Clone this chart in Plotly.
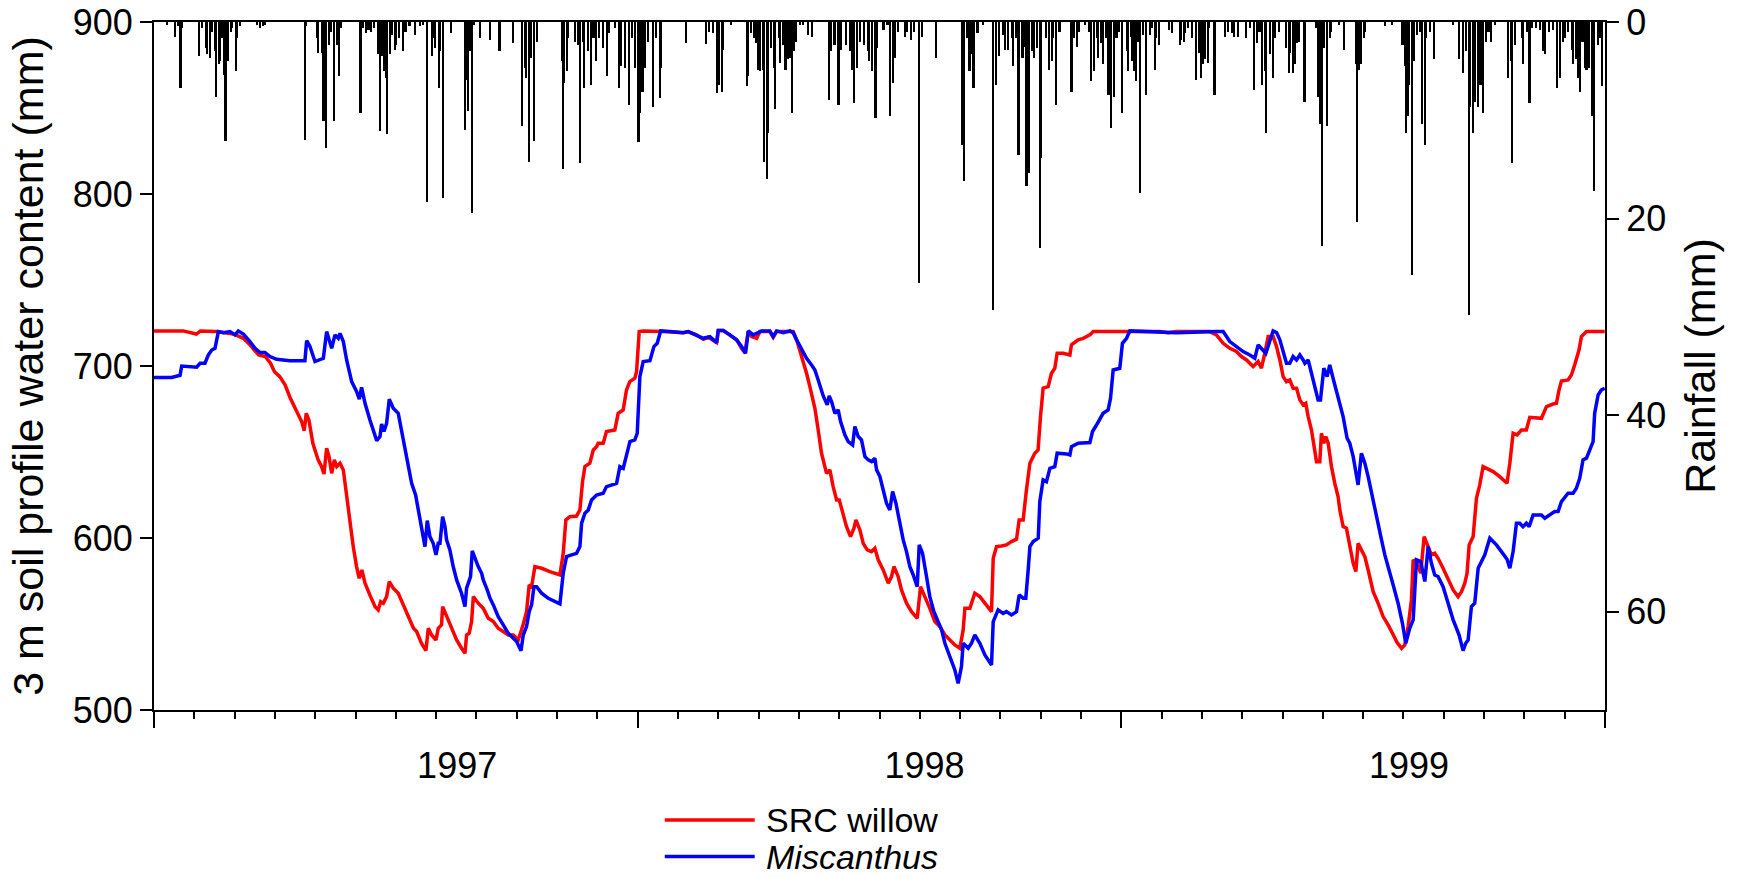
import plotly.graph_objects as go

# ---- data (x = days since start of record, 3 years shown) ----
red_day = [0, 22, 32, 35, 47, 60, 67.5, 72.5, 79, 84, 88, 91, 95, 99, 103, 108, 111.5, 113.5, 115, 117, 120, 122, 124, 126.6, 128.4, 130.4, 132.2, 134.2, 136.2, 138, 140.5, 143, 145.5, 148, 150.5, 153, 155, 157, 159.4, 163, 167, 169.4, 171.2, 173.2, 175.7, 177.7, 180.7, 184.5, 188.3, 192, 196, 198.4, 202, 205.4, 207.2, 209.7, 213, 214.7, 217.2, 218, 221, 224.8, 228.6, 232.3, 234.9, 236.1, 238.1, 239.9, 241.2, 244.9, 248.7, 252.5, 256.3, 260, 263.8, 267.6, 271.4, 275.1, 278.4, 281.4, 283.4, 285.2, 287.7, 292.8, 299, 306.6, 309.1, 311.1, 314.1, 319.2, 321.7, 323.7, 325.5, 329.2, 331.8, 334.3, 335.5, 339.3, 341.8, 348.1, 350.6, 354.4, 356.9, 359.4, 363.2, 364.5, 366.5, 369.5, 384.7, 399.8, 403.5, 409.8, 414.9, 418.7, 425, 426.2, 430, 435, 440.1, 443.8, 446.3, 448.9, 451.4, 455.2, 457.7, 465.2, 467.7, 470.3, 482.8, 485.4, 489.1, 492.9, 495.4, 499.2, 501.7, 504.2, 508, 510.5, 513, 515.6, 517.6, 520.1, 523.1, 526.1, 528.7, 530.2, 533.2, 535.7, 538.7, 542, 544.5, 547, 550.8, 554.6, 557.1, 558.9, 562.1, 564.6, 568.4, 572.2, 576.5, 579, 582.3, 586, 589.8, 593.6, 597.4, 601.1, 604.9, 608.7, 611.2, 612.5, 616.3, 617.5, 620, 623.8, 627.6, 632.6, 633.9, 636.4, 640.2, 643.9, 647.7, 651.5, 653.5, 656.5, 659, 661.6, 665.3, 667.8, 669.6, 671.6, 675.4, 677.9, 680.4, 682.2, 686.7, 691.8, 693, 698.1, 701.8, 706.9, 709.4, 716.9, 737.1, 759.8, 766, 772.3, 797.5, 802.5, 807.6, 812.6, 817.6, 821.4, 825.2, 827.7, 830.2, 834, 836.5, 839, 841.6, 845.3, 847.9, 850.4, 852.9, 855.4, 857.9, 860.4, 863, 865.5, 868, 870, 871.8, 874.3, 876.1, 878.1, 880.6, 881.8, 883.6, 885.1, 886.9, 889.4, 891.9, 894.4, 895.7, 898.2, 900.7, 902.7, 905.8, 907.8, 909.5, 912, 914.6, 917.1, 920.9, 924.6, 928.4, 932.2, 936, 939, 942.3, 944.8, 947.3, 949.8, 951.1, 954.1, 956.8, 959.4, 962.4, 964.9, 967.4, 969.9, 973.7, 977.5, 981.3, 985, 987.6, 990.1, 991.8, 993.4, 996.4, 998.9, 1001.4, 1003.9, 1006.4, 1011.5, 1016.5, 1022, 1024.1, 1026.6, 1029.6, 1032.9, 1036.6, 1039.2, 1048, 1051.8, 1056.8, 1059.3, 1061.3, 1063.1, 1068.1, 1070.6, 1073.1, 1076.4, 1078.2, 1082, 1095.8]
red_val = [720.4, 720.4, 718.6, 720.4, 720.0, 718.6, 716.1, 712.3, 706.4, 705.5, 701.6, 696.7, 693.8, 689.0, 681.2, 673.5, 667.7, 662.4, 672.5, 668.6, 655.1, 650.2, 645.4, 641.5, 637.2, 652.2, 647.3, 637.6, 645.4, 641.5, 643.5, 639.6, 624.1, 608.6, 595.0, 583.4, 576.6, 581.4, 573.7, 566.9, 560.1, 558.2, 563.0, 562.1, 565.9, 574.7, 570.8, 567.9, 561.1, 554.3, 547.5, 545.6, 538.8, 534.5, 547.5, 543.6, 540.7, 547.5, 549.5, 560.1, 554.3, 547.5, 540.7, 535.9, 533.0, 543.6, 544.6, 551.4, 565.9, 562.1, 559.1, 553.3, 551.4, 547.5, 545.6, 543.6, 543.6, 540.7, 548.5, 557.2, 572.7, 571.7, 583.4, 582.4, 580.5, 578.5, 591.1, 610.5, 612.4, 612.8, 616.3, 632.8, 641.5, 643.5, 651.2, 653.1, 655.1, 655.1, 661.9, 662.8, 672.5, 674.5, 686.1, 690.9, 692.9, 696.7, 720.0, 720.4, 720.0, 719.4, 720.0, 718.1, 715.5, 716.7, 713.6, 720.6, 720.6, 718.1, 715.2, 710.3, 707.8, 720.0, 717.1, 716.1, 720.0, 720.0, 716.7, 720.0, 720.0, 715.2, 706.4, 695.8, 688.0, 675.4, 662.8, 649.3, 637.6, 639.6, 629.9, 622.1, 622.1, 614.4, 606.6, 600.8, 605.7, 610.5, 604.7, 596.9, 593.1, 592.1, 594.0, 587.3, 581.4, 573.7, 577.6, 583.4, 577.6, 569.8, 562.1, 557.2, 553.3, 571.7, 565.9, 559.1, 551.4, 548.5, 543.6, 540.7, 537.8, 535.9, 546.6, 559.1, 559.1, 562.1, 567.9, 565.9, 562.1, 557.2, 588.2, 595.0, 595.4, 596.0, 597.9, 599.3, 610.5, 610.5, 628.0, 643.5, 649.3, 651.2, 670.6, 687.1, 688.0, 695.8, 698.7, 707.4, 707.4, 706.4, 712.3, 715.2, 716.1, 718.1, 720.0, 720.0, 720.0, 720.0, 719.4, 720.0, 720.0, 718.1, 713.2, 710.3, 708.4, 705.5, 703.5, 701.6, 699.7, 702.6, 698.7, 707.4, 717.1, 717.1, 711.3, 703.5, 693.8, 690.9, 691.9, 687.1, 687.1, 680.3, 677.4, 678.3, 670.6, 662.8, 655.1, 644.4, 644.4, 660.9, 655.1, 659.0, 655.1, 641.5, 631.8, 624.1, 616.3, 606.6, 605.7, 596.9, 585.3, 580.5, 596.9, 593.1, 589.2, 581.4, 568.8, 562.1, 554.3, 549.5, 543.6, 539.2, 535.9, 537.8, 548.5, 564.0, 587.3, 585.3, 579.5, 600.8, 595.0, 590.2, 591.1, 588.2, 582.4, 575.6, 569.8, 565.9, 568.8, 573.7, 579.5, 596.0, 600.8, 623.1, 630.9, 641.5, 640.5, 638.6, 635.7, 631.8, 643.5, 660.9, 659.9, 662.8, 662.8, 670.2, 669.6, 676.4, 677.9, 678.3, 686.1, 691.3, 691.9, 694.8, 700.6, 709.4, 717.1, 720.0, 720.0]

blue_day = [0, 13.4, 19.7, 20.9, 32.2, 34.8, 38.5, 41, 43.6, 46.1, 48.6, 52.4, 57.4, 61.2, 63.7, 67.5, 72.5, 76.3, 80.1, 83.8, 87.6, 92.6, 102.7, 114, 115.3, 117.8, 121.6, 125.4, 127.9, 130.4, 134.2, 136.7, 139.2, 140.5, 143, 145.5, 149.3, 153.1, 155.1, 156.8, 159.4, 163.1, 165.7, 168.2, 170.7, 171.9, 173.7, 175.7, 177.7, 180.7, 184.5, 187, 189.6, 192.1, 194.6, 197.6, 199.6, 202.1, 204.7, 206.4, 208.4, 210.9, 213, 214.7, 216, 218, 219.8, 221, 223.5, 226, 228.6, 232.3, 234.9, 236.1, 238.1, 239.1, 240.4, 242.4, 244.9, 247.5, 248.7, 251.7, 253.8, 256.3, 260, 263.8, 267.6, 271.4, 273.9, 277.2, 278.9, 281.4, 283.4, 285.2, 287, 289, 292.8, 297.8, 302.8, 306.6, 309.1, 311.6, 315.4, 319.2, 321.7, 323, 325.5, 328, 330.5, 334.3, 339.3, 341.8, 349.4, 351.9, 354.4, 356.9, 359.5, 363.2, 365, 367, 369.5, 374.6, 377.6, 380.1, 382.7, 389.7, 399.8, 403.5, 409.8, 414.9, 419.9, 425, 426.2, 430, 435, 440.1, 443.8, 446.8, 448.9, 452.6, 456.4, 458.9, 465.2, 467.7, 470.3, 475.3, 480.3, 482.8, 485.4, 489.1, 492.9, 496.7, 499.2, 501.7, 505.5, 508.5, 510, 511.8, 514.3, 516.8, 518.6, 521.9, 524.4, 527.7, 529.4, 531.9, 534.4, 537, 539.5, 542, 544.5, 545.8, 548.3, 550.8, 553.3, 555.8, 557.9, 560.4, 563.4, 565.9, 568.4, 570.9, 573.5, 576.5, 578, 580.5, 583.5, 586, 589.1, 592.3, 594.9, 597.4, 601.1, 604.9, 607.4, 609.9, 611.2, 615, 617.5, 620, 623.8, 627.6, 632.6, 633.9, 637.6, 641.4, 643.9, 647.7, 651.5, 653.5, 656.5, 658.5, 660.3, 661.6, 664.1, 667.9, 669.1, 671.6, 674.1, 676.7, 680.4, 682.2, 689.3, 691.8, 693, 698.1, 706.9, 708.9, 711.9, 716.9, 720.7, 722.5, 724.5, 729.5, 731.5, 734.6, 737.1, 759.8, 766, 772.3, 802.5, 807.6, 812.6, 817.6, 822.7, 827.7, 830.2, 831.5, 834, 836.5, 839.8, 845.3, 847.9, 850.4, 852.9, 855.4, 857.9, 860.4, 863, 865.5, 868, 869.3, 871.8, 874.3, 876.8, 879.3, 881.1, 883.6, 886.1, 888.1, 890.6, 893.2, 895.7, 898.2, 901.2, 903.2, 905.8, 907.8, 909.5, 912, 914.6, 917.1, 919.6, 922.1, 924.6, 927.2, 929.7, 933.4, 936, 939.7, 943, 945.5, 948.5, 951.1, 953.6, 956.8, 959.9, 962.4, 964.9, 967.4, 969.9, 973.7, 977.5, 981.3, 985.8, 988.8, 990.8, 992.6, 995.1, 997.6, 1000.2, 1002.7, 1005.2, 1009, 1014, 1017.8, 1022, 1024.1, 1026.6, 1029.1, 1031.6, 1034.1, 1036.6, 1038.7, 1041.7, 1048, 1050.5, 1058, 1060.6, 1063.1, 1068.1, 1071.9, 1074.4, 1076.9, 1079.4, 1082, 1084.5, 1087, 1088.2, 1090.8, 1093.3, 1095.8]
blue_val = [693.3, 693.3, 694.6, 700.0, 699.3, 701.6, 701.6, 706.4, 709.3, 710.3, 720.0, 719.4, 720.0, 718.1, 720.4, 718.6, 714.2, 710.3, 707.8, 707.8, 705.5, 703.9, 703.1, 703.1, 714.8, 711.3, 702.6, 703.5, 704.5, 720.0, 710.3, 718.1, 716.1, 719.0, 714.2, 703.5, 690.9, 685.1, 680.7, 687.6, 678.3, 668.6, 662.8, 656.6, 659.0, 666.3, 661.9, 666.7, 680.7, 675.4, 672.5, 662.8, 651.2, 641.5, 631.8, 625.0, 616.3, 606.6, 595.0, 610.1, 600.8, 596.9, 590.2, 596.9, 596.9, 612.4, 606.6, 598.9, 593.1, 583.4, 575.6, 567.9, 560.1, 570.8, 575.6, 577.6, 592.5, 588.2, 583.4, 579.5, 575.6, 569.8, 565.0, 561.1, 554.3, 549.5, 544.6, 541.7, 539.8, 534.5, 543.6, 548.5, 557.2, 561.1, 571.7, 571.7, 567.9, 564.9, 563.0, 561.7, 579.5, 589.2, 590.2, 591.1, 595.0, 608.6, 614.4, 616.3, 622.1, 625.0, 626.0, 629.9, 631.8, 641.5, 640.5, 647.3, 656.0, 657.0, 660.9, 693.8, 702.6, 703.1, 711.3, 713.2, 720.4, 720.0, 719.4, 720.0, 718.1, 716.1, 717.1, 713.6, 720.6, 720.6, 718.1, 715.2, 711.3, 707.4, 720.4, 718.1, 719.4, 720.4, 720.4, 717.1, 720.4, 719.4, 720.4, 719.4, 715.2, 710.3, 704.5, 700.6, 697.7, 691.9, 682.6, 677.4, 682.6, 679.3, 672.5, 674.5, 667.7, 659.9, 656.0, 654.1, 664.8, 659.0, 657.0, 647.3, 645.4, 644.4, 646.4, 639.6, 635.7, 627.9, 620.2, 616.3, 627.0, 620.2, 608.6, 598.9, 592.1, 583.4, 578.5, 571.7, 596.0, 591.1, 577.6, 565.9, 557.2, 551.4, 546.6, 538.8, 531.1, 523.3, 515.5, 525.2, 538.8, 535.9, 538.8, 543.6, 538.8, 532.0, 526.2, 551.4, 558.2, 556.2, 557.2, 555.3, 557.2, 566.9, 565.0, 565.0, 581.4, 595.0, 597.9, 599.9, 621.2, 633.8, 632.8, 640.5, 641.5, 649.3, 648.9, 648.3, 653.1, 655.1, 655.5, 661.9, 665.7, 672.5, 674.5, 681.2, 697.7, 698.7, 713.2, 716.1, 720.4, 720.0, 720.0, 719.4, 720.0, 720.0, 714.2, 711.3, 708.4, 706.4, 705.5, 704.5, 712.3, 710.3, 707.4, 720.4, 719.4, 715.2, 708.4, 701.6, 701.6, 705.5, 703.5, 706.4, 703.5, 701.6, 703.5, 695.8, 690.0, 680.3, 680.3, 698.7, 693.8, 700.6, 692.9, 685.1, 679.3, 670.6, 658.0, 655.1, 647.3, 637.6, 630.9, 649.3, 643.5, 635.7, 626.0, 616.3, 608.6, 598.9, 590.2, 580.5, 572.7, 562.1, 550.4, 538.8, 547.5, 552.4, 587.3, 586.3, 574.7, 595.0, 585.3, 578.5, 577.6, 571.7, 562.1, 552.4, 543.6, 534.5, 538.8, 540.7, 560.1, 562.1, 582.4, 586.3, 590.2, 599.9, 596.0, 592.1, 587.6, 582.4, 592.1, 608.6, 608.6, 606.6, 608.6, 606.6, 613.4, 613.4, 611.5, 615.4, 615.4, 621.2, 626.0, 626.0, 628.9, 634.7, 645.4, 646.4, 651.2, 656.0, 672.5, 683.2, 686.1, 687.1, 693.8]

rain_day = [10, 16, 18, 20, 21, 34, 36, 39, 40, 42, 44, 46, 47, 49, 50, 51, 53, 54, 56, 58, 59, 62, 63, 65, 78, 80, 82, 84,
            114, 115, 123, 124, 127, 128, 130, 132, 134, 136, 138, 140, 141, 156, 158, 160, 162, 164, 166, 169, 170, 171, 172,
            174, 175, 176, 178, 180, 182, 183, 185, 188, 190, 193, 197, 201, 203, 206, 210, 211, 212, 215, 216, 218, 224,
            235, 236, 237, 239, 240, 242, 246, 254, 261, 271, 278, 280, 281, 283, 285, 287, 289, 308, 309, 310, 312, 313,
            318, 320, 321, 322, 324, 325, 328, 330, 332, 334, 336, 339, 342, 344, 348, 351, 352, 353, 356, 359, 361, 363,
            366, 367, 369, 371, 373, 377, 379, 382, 383, 402, 417, 419, 422, 425, 427, 429, 430, 436, 448, 449, 451, 453,
            455, 456, 458, 460, 461, 463, 464, 466, 468, 469, 472, 473, 475, 477, 479, 480, 482, 483, 485, 488, 490, 494,
            497, 510, 511, 514, 517, 519, 523, 526, 527, 529, 531, 533, 536, 539, 540, 542, 545, 546, 551, 554, 556, 558,
            560, 562, 567, 569, 572, 574, 578, 580, 591, 610, 612, 614, 616, 618, 619, 622, 626, 634, 636, 638, 641, 643,
            645, 648, 649, 651, 653, 656, 658, 659, 661, 663, 665, 667, 669, 670, 674, 676, 678, 679, 681, 684, 693, 695,
            697, 699, 703, 706, 708, 710, 712, 713, 715, 717, 719, 721, 723, 725, 727, 729, 731, 735, 736, 738, 739, 740,
            742, 743, 745, 747, 749, 752, 754, 756, 757, 759, 767, 769, 775, 776, 778, 779, 781, 784, 787, 789, 791, 792,
            794, 796, 797, 801, 809, 811, 814, 816, 819, 825, 828, 831, 833, 835, 837, 839, 840, 843, 845, 847, 850, 855,
            857, 858, 860, 862, 863, 865, 869, 878, 879, 881, 882, 884, 886, 888, 889, 895, 899, 908, 909, 910, 912, 914,
            915, 930, 935, 943, 945, 946, 947, 948, 950, 952, 954, 956, 958, 960, 961, 964, 967, 981, 986, 989, 991, 993,
            994, 996, 998, 1000, 1002, 1004, 1006, 1008, 1010, 1013, 1023, 1025, 1026, 1028, 1033, 1034, 1037, 1039, 1041,
            1044, 1047, 1049, 1051, 1054, 1057, 1060, 1062, 1064, 1066, 1068, 1071, 1072, 1074, 1076, 1077, 1079, 1081,
            1082, 1084, 1086, 1088, 1091, 1092, 1094]
rain_mm = [0.3, 1.5, 0.4, 6.7, 0.6, 3.5, 0.6, 2.6, 3.3, 3.7, 1.0, 3.0, 7.6, 4.3, 4.0, 1.6, 5.4, 12.1, 4.0, 1.0, 0.6, 5.0, 1.6, 0.4, 0.3, 0.6, 0.4, 0.3,
           12.0, 0.4, 1.6, 3.2, 3.2, 10.1, 12.8, 2.3, 1.0, 10.1, 2.3, 5.5, 0.6, 9.3, 0.6, 1.1, 0.8, 1.0, 0.6, 3.3, 3.0, 11.1, 3.5,
           5.0, 5.7, 11.4, 3.3, 1.3, 2.8, 2.3, 1.6, 3.0, 1.0, 0.4, 1.3, 0.4, 0.3, 18.3, 3.5, 1.6, 2.6, 6.7, 3.0, 17.9, 1.1,
           11.0, 5.9, 9.1, 3.0, 19.4, 0.3, 1.6, 1.8, 3.0, 2.1, 10.6, 4.7, 5.7, 14.2, 3.7, 12.1, 2.0, 4.0, 15.0, 6.2, 5.0, 1.6,
           2.0, 2.3, 2.3, 14.3, 2.0, 6.7, 3.0, 6.4, 1.6, 4.0, 1.6, 2.6, 5.5, 1.1, 0.6, 6.7, 3.0, 4.5, 4.7, 8.4, 1.6, 4.7,
           12.2, 9.3, 7.1, 4.7, 2.0, 8.6, 1.6, 7.7, 4.7, 2.1, 2.2, 1.0, 1.1, 7.2, 6.4, 7.1, 2.8, 0.3, 6.5, 5.5, 1.1, 1.6,
           2.1, 4.9, 5.0, 4.9, 14.2, 16.0, 11.3, 2.6, 4.7, 8.9, 1.6, 4.2, 2.3, 4.9, 3.8, 3.7, 9.3, 3.0, 2.0, 0.3, 0.3, 1.3,
           1.5, 7.9, 3.0, 2.3, 8.4, 2.8, 2.3, 3.0, 4.9, 8.2, 4.7, 2.0, 2.3, 3.0, 4.0, 5.0, 9.8, 2.6, 0.8, 0.3, 9.6, 6.2,
           3.7, 1.0, 1.5, 1.0, 1.8, 1.0, 26.6, 1.5, 3.7, 12.5, 16.2, 1.6, 5.0, 3.3, 6.7, 1.1, 0.3, 29.3, 6.4, 3.5, 1.3, 2.8,
           2.8, 1.6, 4.5, 1.6, 13.5, 3.7, 2.5, 16.7, 15.4, 3.0, 3.7, 2.6, 23.0, 13.8, 1.6, 4.9, 4.0, 1.6, 8.4, 1.0, 7.1, 1.6,
           2.5, 1.0, 0.3, 1.0, 6.0, 5.0, 1.6, 3.7, 2.1, 4.3, 1.6, 7.4, 10.8, 7.6, 1.6, 1.0, 9.3, 3.0, 5.0, 1.5, 4.0, 5.0,
           6.0, 2.0, 17.4, 1.3, 7.4, 1.3, 0.6, 4.9, 1.6, 2.3, 0.8, 1.1, 2.3, 1.8, 2.0, 1.1, 0.6, 1.6, 5.9, 3.2, 5.7, 4.3,
           3.8, 4.2, 0.6, 7.4, 1.5, 1.0, 1.1, 1.5, 1.5, 1.6, 0.6, 6.9, 2.1, 1.0, 6.4, 5.0, 11.3, 3.3, 5.7, 1.6, 1.0, 2.6,
           5.2, 3.2, 5.2, 4.3, 2.1, 2.0, 8.1, 0.6, 7.6, 10.4, 22.8, 2.6, 10.6, 1.6, 1.0, 0.3, 2.8, 4.3, 20.3, 4.9, 4.3, 1.6,
           1.0, 0.4, 0.3, 2.3, 4.5, 11.3, 9.6, 6.4, 25.7, 4.0, 1.3, 1.0, 10.4, 12.5, 1.6, 1.0, 3.8, 0.3, 3.8, 5.2, 3.0, 29.8,
           8.6, 11.3, 8.1, 8.6, 6.4, 9.3, 2.0, 1.0, 2.0, 0.3, 5.7, 4.0, 14.3, 2.3, 1.6, 4.3, 1.0, 8.2, 0.6,
           0.6, 0.8, 3.0, 3.3, 1.0, 0.8, 6.7, 5.7, 2.0, 1.6, 1.0, 2.8, 4.3, 3.8, 5.7, 7.1, 2.0, 4.7,
           4.9, 4.7, 9.6, 17.2, 2.3, 1.6, 6.5]

x_span = [0, 1096]
months_per_axis = 36
year_label_pos = [229, 582, 948]
year_labels = ["1997", "1998", "1999"]
swc_ticks = [500, 600, 700, 800, 900]
rain_ticks = [0, 20, 40, 60]
series_names = ["SRC willow", "<i>Miscanthus</i>"]
series_colors = ["#ff0000", "#0000ff"]

month_ticks = [i * x_span[1] / months_per_axis for i in range(months_per_axis + 1)]
year_ticks = month_ticks[::12]

FONT = "Liberation Sans, Arial, sans-serif"
fig = go.Figure()

fig.add_trace(go.Bar(x=rain_day, y=rain_mm, xaxis="x2", yaxis="y2",
                     marker=dict(color="black", line=dict(width=0)),
                     width=1.6, showlegend=False, hoverinfo="x+y"))
fig.add_trace(go.Scatter(x=red_day, y=red_val, mode="lines", name=series_names[0],
                         line=dict(color=series_colors[0], width=3.5), showlegend=False))
fig.add_trace(go.Scatter(x=blue_day, y=blue_val, mode="lines", name=series_names[1],
                         line=dict(color=series_colors[1], width=3.5), showlegend=False))

# legend drawn below the plot (long line samples, as in the original)
legend_rows_y = [-0.160, -0.213]
for name, color, ly in zip(series_names, series_colors, legend_rows_y):
    fig.add_shape(type="line", xref="paper", yref="paper", x0=0.352, x1=0.414, y0=ly, y1=ly,
                  line=dict(color=color, width=3.5))
    fig.add_annotation(xref="paper", yref="paper", x=0.4205, y=ly, xanchor="left", yanchor="middle",
                       text=name, showarrow=False, font=dict(size=34, color="black"))

fig.update_layout(
    width=1737, height=878,
    margin=dict(l=154, r=132, t=22, b=168),
    paper_bgcolor="white", plot_bgcolor="white",
    font=dict(family=FONT, size=36, color="black"),
    bargap=0, showlegend=False,
    xaxis=dict(range=x_span, tickvals=year_ticks, ticks="outside", ticklen=16, tickwidth=2,
               tickcolor="black", showticklabels=False, showline=True, linewidth=2,
               linecolor="black", mirror=True, showgrid=False, zeroline=False, automargin=False,
               minor=dict(tickvals=month_ticks, ticks="outside", ticklen=7, tickwidth=2,
                          tickcolor="black", showgrid=False)),
    xaxis2=dict(range=x_span, overlaying="x", anchor="y2", side="bottom",
                tickvals=year_label_pos, ticktext=year_labels, ticks="outside", ticklen=24,
                tickcolor="rgba(0,0,0,0)", showline=False, showgrid=False, zeroline=False,
                tickfont=dict(size=36), automargin=False),
    yaxis=dict(range=[500, 900], tickvals=swc_ticks, ticks="outside", ticklen=12, tickwidth=2,
               tickcolor="black", showline=True, linewidth=2, linecolor="black",
               showgrid=False, zeroline=False, automargin=False, ticklabeloverflow="allow",
               title=dict(text="3 m soil profile water content (mm)", standoff=16)),
    yaxis2=dict(range=[70, 0], tickvals=rain_ticks, overlaying="y", side="right", anchor="x2",
                ticks="outside", ticklen=12, tickwidth=2, tickcolor="black", automargin=False,
                ticklabeloverflow="allow",
                showline=True, linewidth=2, linecolor="black", showgrid=False, zeroline=False,
                title=dict(text="Rainfall (mm)", standoff=20)),
)

# remove the browser's default 8 px body margin so the figure fills the window exactly
fig.write_html("out.html", config={"displayModeBar": False},
               post_script="document.body.style.margin='0';")
